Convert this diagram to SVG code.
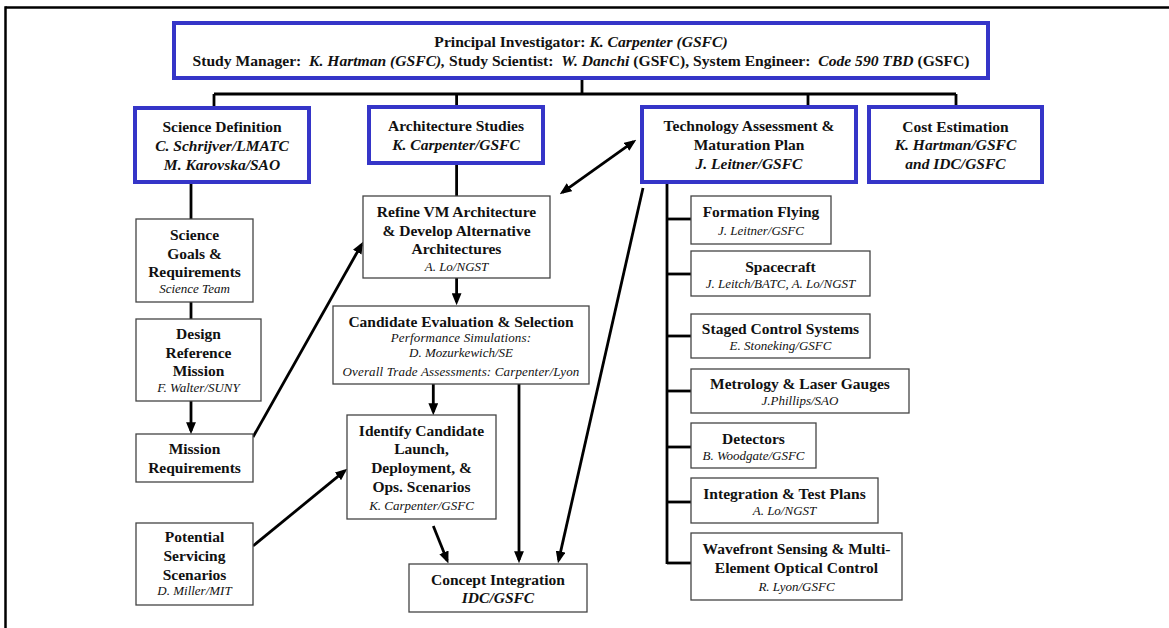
<svg xmlns="http://www.w3.org/2000/svg" width="1169" height="628" viewBox="0 0 1169 628">
<style>
text{font-family:"Liberation Serif","Times New Roman",serif;text-anchor:middle;fill:#111}
.t{font-size:15.5px;font-weight:bold}
.tt{font-size:15.6px;font-weight:bold}
.bi{font-style:italic;font-weight:bold}
.s{font-size:13px;font-style:italic}
.s2{letter-spacing:0.15px}
.blue{fill:#fff;stroke:#3535C8;stroke-width:4}
.box{fill:#fff;stroke:#444;stroke-width:1.3}
.c line{stroke:#000;stroke-width:2.8;fill:none}
</style>
<defs>
<marker id="ah" markerUnits="userSpaceOnUse" markerWidth="12" markerHeight="10" refX="8" refY="4.5" orient="auto-start-reverse" viewBox="0 0 11 9">
<path d="M0,0 L11,4.5 L0,9 z" fill="#000"/>
</marker>
</defs>
<rect width="1169" height="628" fill="#fff"/>
<g id="frame" stroke="#000" stroke-width="2.5" fill="none">
<line x1="5.5" y1="7.5" x2="1169" y2="7.5"/>
<line x1="5.5" y1="6.3" x2="5.5" y2="628"/>
</g>
<g class="c" id="connectors">
<line x1="582" y1="78" x2="582" y2="94"/>
<line x1="214" y1="94" x2="956" y2="94"/>
<line x1="214" y1="94" x2="214" y2="108"/>
<line x1="456.6" y1="94" x2="456.6" y2="107"/>
<line x1="808" y1="94" x2="808" y2="107"/>
<line x1="956" y1="94" x2="956" y2="107"/>
<line x1="456.6" y1="163" x2="456.6" y2="196"/>
<line x1="191" y1="182" x2="191" y2="219"/>
<line x1="191" y1="302" x2="191" y2="319"/>
<line x1="667" y1="182" x2="667" y2="564"/>
<line x1="667" y1="219" x2="691" y2="219"/>
<line x1="667" y1="274" x2="691" y2="274"/>
<line x1="667" y1="336" x2="691" y2="336"/>
<line x1="667" y1="391" x2="691" y2="391"/>
<line x1="667" y1="447" x2="691" y2="447"/>
<line x1="667" y1="502" x2="691" y2="502"/>
<line x1="667" y1="563" x2="691" y2="563"/>
<line x1="191" y1="401" x2="191" y2="431" marker-end="url(#ah)"/>
<line x1="253" y1="437" x2="361.5" y2="244.6" marker-end="url(#ah)"/>
<line x1="253" y1="546" x2="344.7" y2="470.9" marker-end="url(#ah)"/>
<line x1="562.4" y1="192.3" x2="633.6" y2="141.7" marker-start="url(#ah)" marker-end="url(#ah)"/>
<line x1="456.6" y1="278" x2="456.6" y2="302" marker-end="url(#ah)"/>
<line x1="433.3" y1="384" x2="433.3" y2="412" marker-end="url(#ah)"/>
<line x1="519" y1="384" x2="519" y2="560" marker-end="url(#ah)"/>
<line x1="643" y1="188" x2="558.7" y2="560.1" marker-end="url(#ah)"/>
<line x1="433.3" y1="526" x2="447.2" y2="560.5" marker-end="url(#ah)"/>
</g>
<g id="pi">
<rect class="blue" x="174" y="23" width="814" height="55"/>
<text class="tt" x="581" y="46.5" xml:space="preserve">Principal Investigator: <tspan class="bi">K. Carpenter (GSFC)</tspan></text>
<text class="tt" x="581" y="66" xml:space="preserve">Study Manager:  <tspan class="bi">K. Hartman (GSFC),</tspan> Study Scientist:  <tspan class="bi">W. Danchi</tspan> (GSFC), System Engineer:  <tspan class="bi">Code 590 TBD</tspan> (GSFC)</text>
</g>
<g id="science-definition">
<rect class="blue" x="135" y="108" width="174" height="74"/>
<text class="t" x="222" y="131.5">Science Definition</text>
<text class="t bi" x="222" y="150.5">C. Schrijver/LMATC</text>
<text class="t bi" x="222" y="169.5">M. Karovska/SAO</text>
</g>
<g id="architecture-studies">
<rect class="blue" x="369" y="107" width="174" height="56"/>
<text class="t" x="456" y="130.5">Architecture Studies</text>
<text class="t bi" x="456" y="149.5">K. Carpenter/GSFC</text>
</g>
<g id="technology-assessment">
<rect class="blue" x="642" y="107" width="214" height="75"/>
<text class="t" x="749" y="131">Technology Assessment &amp;</text>
<text class="t" x="749" y="150">Maturation Plan</text>
<text class="t bi" x="749" y="168.5">J. Leitner/GSFC</text>
</g>
<g id="cost-estimation">
<rect class="blue" x="869" y="107" width="173" height="75"/>
<text class="t" x="955.5" y="131.5">Cost Estimation</text>
<text class="t bi" x="955.5" y="150">K. Hartman/GSFC</text>
<text class="t bi" x="955.5" y="169">and IDC/GSFC</text>
</g>
<g id="science-goals">
<rect class="box" x="136" y="219" width="117" height="83"/>
<text class="t" x="194.5" y="240">Science</text>
<text class="t" x="194.5" y="258.5">Goals &amp;</text>
<text class="t" x="194.5" y="277">Requirements</text>
<text class="s" x="194.5" y="293">Science Team</text>
</g>
<g id="design-reference-mission">
<rect class="box" x="136" y="319" width="125" height="82"/>
<text class="t" x="198.5" y="339">Design</text>
<text class="t" x="198.5" y="357.5">Reference</text>
<text class="t" x="198.5" y="376">Mission</text>
<text class="s" x="198.5" y="392">F. Walter/SUNY</text>
</g>
<g id="mission-requirements">
<rect class="box" x="136" y="434" width="117" height="48"/>
<text class="t" x="194.5" y="454.3">Mission</text>
<text class="t" x="194.5" y="472.7">Requirements</text>
</g>
<g id="potential-servicing">
<rect class="box" x="136" y="523" width="117" height="82"/>
<text class="t" x="194.5" y="541.7">Potential</text>
<text class="t" x="194.5" y="561">Servicing</text>
<text class="t" x="194.5" y="580">Scenarios</text>
<text class="s" x="194.5" y="595">D. Miller/MIT</text>
</g>
<g id="refine-vm">
<rect class="box" x="363" y="196" width="187" height="82"/>
<text class="t" x="456.5" y="216.7">Refine VM Architecture</text>
<text class="t" x="456.5" y="236">&amp; Develop Alternative</text>
<text class="t" x="456.5" y="254">Architectures</text>
<text class="s" x="456.5" y="270.7">A. Lo/NGST</text>
</g>
<g id="candidate-evaluation">
<rect class="box" x="333" y="306" width="256" height="78"/>
<text class="t" x="461" y="326.7">Candidate Evaluation &amp; Selection</text>
<text class="s s2" x="461" y="342.3">Performance Simulations:</text>
<text class="s" x="461" y="357.3">D. Mozurkewich/SE</text>
<text class="s s2" x="461" y="376">Overall Trade Assessments: Carpenter/Lyon</text>
</g>
<g id="identify-candidate">
<rect class="box" x="347" y="415" width="149" height="104"/>
<text class="t" x="421.5" y="436">Identify Candidate</text>
<text class="t" x="421.5" y="454">Launch,</text>
<text class="t" x="421.5" y="473.3">Deployment, &amp;</text>
<text class="t" x="421.5" y="491.7">Ops. Scenarios</text>
<text class="s" x="421.5" y="510">K. Carpenter/GSFC</text>
</g>
<g id="concept-integration">
<rect class="box" x="409" y="564" width="178" height="48"/>
<text class="t" x="498" y="585">Concept Integration</text>
<text class="t bi" x="498" y="603.3">IDC/GSFC</text>
</g>
<g id="formation-flying">
<rect class="box" x="691" y="196" width="140" height="48"/>
<text class="t" x="761" y="216.7">Formation Flying</text>
<text class="s" x="761" y="235">J. Leitner/GSFC</text>
</g>
<g id="spacecraft">
<rect class="box" x="691" y="251" width="179" height="45"/>
<text class="t" x="780.5" y="271.7">Spacecraft</text>
<text class="s" x="780.5" y="287.5">J. Leitch/BATC, A. Lo/NGST</text>
</g>
<g id="staged-control">
<rect class="box" x="691" y="314" width="179" height="44"/>
<text class="t" x="780.5" y="333.5">Staged Control Systems</text>
<text class="s" x="780.5" y="349.5">E. Stoneking/GSFC</text>
</g>
<g id="metrology">
<rect class="box" x="691" y="369" width="218" height="44"/>
<text class="t" x="800" y="388.5">Metrology &amp; Laser Gauges</text>
<text class="s" x="800" y="404.5">J.Phillips/SAO</text>
</g>
<g id="detectors">
<rect class="box" x="691" y="423" width="125" height="45"/>
<text class="t" x="753.5" y="443.5">Detectors</text>
<text class="s" x="753.5" y="460">B. Woodgate/GSFC</text>
</g>
<g id="integration-test">
<rect class="box" x="691" y="478" width="187" height="45"/>
<text class="t" x="784.5" y="498.5">Integration &amp; Test Plans</text>
<text class="s" x="784.5" y="514.5">A. Lo/NGST</text>
</g>
<g id="wavefront">
<rect class="box" x="691" y="533" width="211" height="67"/>
<text class="t" x="796.5" y="554">Wavefront Sensing &amp; Multi-</text>
<text class="t" x="796.5" y="573">Element Optical Control</text>
<text class="s" x="796.5" y="591">R. Lyon/GSFC</text>
</g>
</svg>
